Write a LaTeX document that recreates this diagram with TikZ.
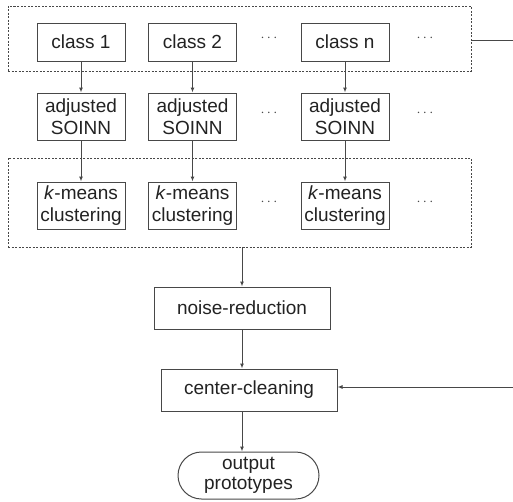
\documentclass[tikz,border=0pt]{standalone}
\usepackage{fontspec}
\setmainfont{Liberation Sans}
\usepackage{tikz}
\usetikzlibrary{arrows.meta,positioning,shapes.misc}
\definecolor{linegray}{HTML}{484848}
\definecolor{textgray}{HTML}{222222}

\begin{document}
\begin{tikzpicture}[
  x=1pt,y=-1pt,
  line join=miter,
  >={Latex[length=5pt,width=4pt]},
  stepbox/.style={draw=linegray,line width=1pt,inner sep=0pt,align=center,
    text=textgray,font=\fontsize{19}{22}\selectfont},
  classbox/.style={stepbox,minimum width=88pt,minimum height=38pt},
  algbox/.style={stepbox,minimum width=88pt,minimum height=47pt},
  widebox/.style={stepbox,minimum width=176pt,minimum height=42pt},
  endbox/.style={stepbox,rounded rectangle,minimum width=141pt,minimum height=47pt},
  groupbox/.style={draw=linegray,line width=0.9pt,dash pattern=on 2pt off 1.5pt,
    inner sep=0pt,minimum width=463pt},
  moredots/.style={text=linegray,font=\fontsize{14}{14}\selectfont},
  flow/.style={draw=linegray,line width=1pt,->}
]
\path[use as bounding box] (0,0) rectangle (513,501);

% grouping frames
\node[groupbox,minimum height=65pt] (classgrp) at (239.5,38.5) {};
\node[groupbox,minimum height=89pt] (kmgrp) at (239.5,202.5) {};

% class row
\node[classbox] (c1) at (81,42) {class 1};
\node[classbox] (c2) at (192.5,42) {class 2};
\node[classbox] (cn) at (345,42) {class n};
\node[moredots] (d1a) at (269,38) {$\cdots$};
\node[moredots] (d1b) at (425,38) {$\cdots$};

% adjusted SOINN row
\node[algbox] (s1) at (81,116.5) {adjusted\\SOINN};
\node[algbox] (s2) at (192.5,116.5) {adjusted\\SOINN};
\node[algbox] (sn) at (345,116.5) {adjusted\\SOINN};
\node[moredots] (d2a) at (269,113) {$\cdots$};
\node[moredots] (d2b) at (425,113) {$\cdots$};

% k-means row
\node[algbox] (k1) at (81,205.5) {\textit{k}-means\\clustering};
\node[algbox] (k2) at (192.5,205.5) {\textit{k}-means\\clustering};
\node[algbox] (kn) at (345,205.5) {\textit{k}-means\\clustering};
\node[moredots] (d3a) at (269,202) {$\cdots$};
\node[moredots] (d3b) at (425,202) {$\cdots$};

% post-processing
\node[widebox] (noise) at (242,308) {noise-reduction};
\node[widebox] (clean) at (249,390) {center-cleaning};
\node[endbox,font=\fontsize{19}{20}\selectfont] (out) at (248.5,475.5) {output\\prototypes};

\coordinate (fbtop) at (513,40);
\coordinate (fbbot) at (513,387);

\draw[flow] (c1) -- (s1);
\draw[flow] (c2) -- (s2);
\draw[flow] (cn) -- (sn);
\draw[flow] (s1) -- (k1);
\draw[flow] (s2) -- (k2);
\draw[flow] (sn) -- (kn);
\draw[flow] (kmgrp.south -| noise.north) -- (noise.north);
\draw[flow] (noise.south) -- (noise.south |- clean.north);
\draw[flow] (clean.south -| noise.south) -- (out.north -| noise.south);
\draw[draw=linegray,line width=1pt] (classgrp.east |- fbtop) -- (fbtop);
\draw[flow] (fbbot) -- (clean.east |- fbbot);
\end{tikzpicture}
\end{document}
